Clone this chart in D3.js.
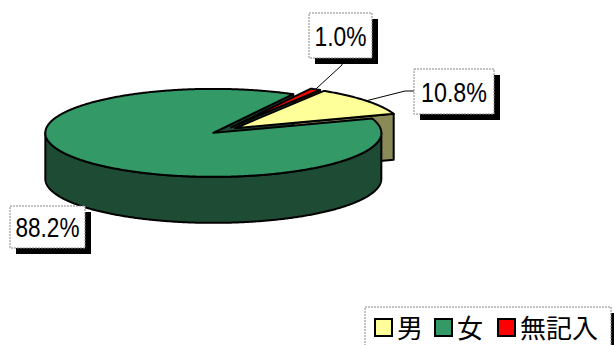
<!DOCTYPE html>
<html><head><meta charset="utf-8">
<script src="https://cdn.jsdelivr.net/npm/d3@7"></script>
<style>html,body{margin:0;padding:0;background:#fff;}svg{display:block;}</style>
</head><body>
<svg id="chart" width="614" height="345"></svg>
<script>
const categories = ["男", "女", "無記入"];
const values = [10.8, 88.2, 1.0];
const labels = ["10.8%", "88.2%", "1.0%"];
const topColors = ["#ffff99", "#339966", "#ff0000"];
const sideColors = ["#8a8a58", "#1e4b34", "#800000"];

const svg = d3.select("#chart");
const cx = 224, cy = 130.5, rx = 168, ry = 44, depth = 46, explode = 14;
const k = ry / rx;
const start = 32 * Math.PI / 180;

const pie = d3.pie().sort(null).value(d => d).startAngle(start).endAngle(start + 2 * Math.PI);
const arcs = pie(values).map((a, i) => {
  const mid = (a.startAngle + a.endAngle) / 2;
  return Object.assign({}, a, {
    i, mid,
    ox: cx + explode * Math.sin(mid),
    oy: cy - explode * Math.cos(mid) * k
  });
});

function pt(a, x0, y0, dy) { return [x0 + rx * Math.sin(a), y0 - ry * Math.cos(a) + (dy || 0)]; }
function arcPts(a0, a1, x0, y0, dy) {
  const n = Math.max(2, Math.ceil(Math.abs(a1 - a0) / (Math.PI / 360)));
  const p = [];
  for (let j = 0; j <= n; j++) p.push(pt(a0 + (a1 - a0) * j / n, x0, y0, dy));
  return p;
}
const line = d3.line();
const gSides = svg.append("g");
const gTops = svg.append("g");
function draw(g, pts, fill) {
  g.append("path").attr("d", line(pts) + "Z").attr("fill", fill)
    .attr("stroke", "#000").attr("stroke-width", 2).attr("stroke-linejoin", "round");
}

// paint order: back to front; sides first, then tops
const order = arcs.slice().sort((a, b) => Math.cos(b.mid) - Math.cos(a.mid));
order.forEach(s => {
  const x0 = s.ox, y0 = s.oy;
  const sc = sideColors[s.i];
  if (Math.sin(s.startAngle) < 0) {
    const p = pt(s.startAngle, x0, y0);
    draw(gSides, [[x0, y0], p, [p[0], p[1] + depth], [x0, y0 + depth]], sc);
  }
  if (Math.sin(s.endAngle) > 0) {
    const p = pt(s.endAngle, x0, y0);
    draw(gSides, [[x0, y0], p, [p[0], p[1] + depth], [x0, y0 + depth]], sc);
  }
  for (let off = -2; off <= 2; off++) {
    const f0 = Math.PI / 2 + off * 2 * Math.PI, f1 = 3 * Math.PI / 2 + off * 2 * Math.PI;
    const a0 = Math.max(s.startAngle, f0), a1 = Math.min(s.endAngle, f1);
    if (a1 > a0) {
      const top = arcPts(a0, a1, x0, y0, 0);
      const bot = arcPts(a1, a0, x0, y0, depth);
      draw(gSides, top.concat(bot), sc);
    }
  }
  draw(gTops, [[x0, y0]].concat(arcPts(s.startAngle, s.endAngle, x0, y0, 0)), topColors[s.i]);
});

// labels
const labelBoxes = [
  { x: 414, y: 69, w: 80, h: 45 },
  { x: 10, y: 206, w: 75, h: 42 },
  { x: 309, y: 13, w: 63, h: 45 }
];
const textW = [66, 64, 52];
const leaders = [
  s => { const p = pt(s.mid, s.ox, s.oy); return [p, [405, 91], [414, 91]]; },
  null,
  s => { const p = pt(s.mid, s.ox, s.oy); return [p, [342, 65], [342, 58]]; }
];
arcs.forEach(s => {
  const b = labelBoxes[s.i];
  if (leaders[s.i]) {
    svg.append("path").attr("d", line(leaders[s.i](s))).attr("fill", "none")
      .attr("stroke", "#000").attr("stroke-width", 1);
  }
  svg.append("rect").attr("x", b.x + 6).attr("y", b.y + 6).attr("width", b.w).attr("height", b.h).attr("fill", "#000");
  svg.append("rect").attr("x", b.x).attr("y", b.y).attr("width", b.w).attr("height", b.h)
    .attr("fill", "#fff").attr("stroke", "#888").attr("stroke-width", 1).attr("stroke-dasharray", "2,1");
  svg.append("text").attr("x", b.x + b.w / 2).attr("y", b.y + b.h / 2 + 10)
    .attr("text-anchor", "middle").attr("font-family", "Liberation Sans, Arial, sans-serif")
    .attr("font-size", 28).attr("fill", "#000")
    .attr("textLength", textW[s.i]).attr("lengthAdjust", "spacingAndGlyphs")
    .text(labels[s.i]);
});

// legend
const lg = svg.append("g");
lg.append("rect").attr("x", 371).attr("y", 313).attr("width", 246).attr("height", 45).attr("fill", "#000");
lg.append("rect").attr("x", 365).attr("y", 307).attr("width", 246).attr("height", 45)
  .attr("fill", "#fff").attr("stroke", "#888").attr("stroke-width", 1).attr("stroke-dasharray", "2,1");
const legX = [375, 435, 498];
categories.forEach((c, i) => {
  lg.append("rect").attr("x", legX[i]).attr("y", 319).attr("width", 17).attr("height", 17)
    .attr("fill", topColors[i]).attr("stroke", "#000").attr("stroke-width", 2);
  lg.append("text").attr("x", legX[i] + 22).attr("y", 338)
    .attr("font-family", "Noto Sans CJK JP, sans-serif").attr("font-size", 26).attr("fill", "#000")
    .text(c);
});
</script>
</body></html>
